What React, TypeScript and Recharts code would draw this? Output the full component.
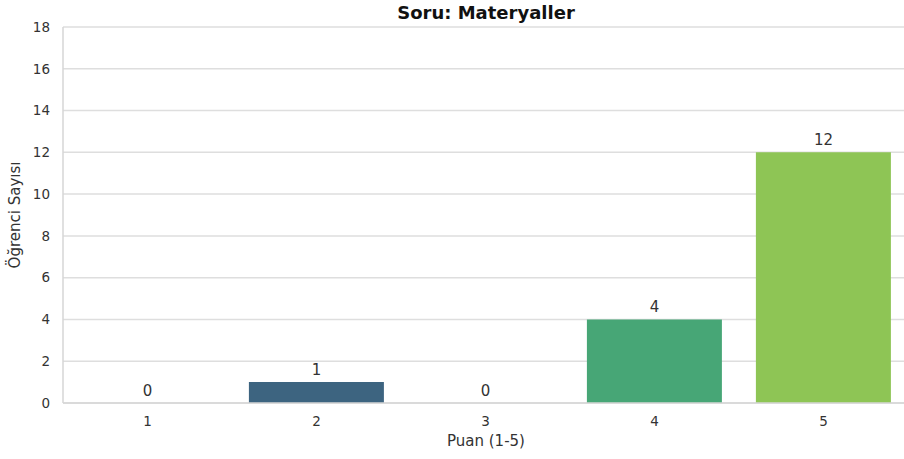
import React from "react";
import { ComposedChart, Bar, Line, XAxis, YAxis, CartesianGrid, Cell, LabelList } from "recharts";

const categories = ["1", "2", "3", "4", "5"];
const counts = [0, 1, 0, 4, 12];
const colors = ["#472d7b", "#3d6480", "#2a8b86", "#47a676", "#8ec555"];
const yTicks = [0, 2, 4, 6, 8, 10, 12, 14, 16, 18];

const data = categories.map((c, i) => ({ name: c, value: counts[i] }));

const FONT = "DejaVu Sans, sans-serif";

export default function App() {
  return (
    <div style={{ position: "absolute", left: 0, top: 0, width: 904, height: 459, overflow: "hidden", background: "#fff" }}>
      <ComposedChart
        width={908}
        height={459}
        data={data}
        margin={{ top: 27, right: 0, bottom: 0, left: 0 }}
        barCategoryGap="10%"
        style={{ fontFamily: FONT }}
      >
        <text x={486} y={19} textAnchor="middle" fontFamily={FONT} fontSize={18} fontWeight="bold" fill="#111">
          Soru: Materyaller
        </text>
        <text x={486} y={446} textAnchor="middle" fontFamily={FONT} fontSize={15} fill="#333">
          Puan (1-5)
        </text>
        <text x={-215} y={20} transform="rotate(-90)" textAnchor="middle" fontFamily={FONT} fontSize={15} fill="#333">
          Öğrenci Sayısı
        </text>
        <CartesianGrid vertical={false} stroke="#dedede" strokeWidth={1.5} />
        <XAxis
          dataKey="name"
          height={56}
          tickLine={false}
          axisLine={{ stroke: "#d6d6d6", strokeWidth: 1.5 }}
          tick={{ fill: "#333", fontSize: 13.5, fontFamily: FONT }}
          tickSize={6}
          tickMargin={7}
        />
        <YAxis
          width={63}
          domain={[0, 18]}
          ticks={yTicks}
          interval={0}
          tickLine={false}
          axisLine={{ stroke: "#d6d6d6", strokeWidth: 1.5 }}
          tick={{ fill: "#333", fontSize: 13.5, fontFamily: FONT }}
          tickSize={6}
          tickMargin={7}
        />
        <Bar dataKey="value" isAnimationActive={false}>
          {data.map((d, i) => (
            <Cell key={d.name} fill={colors[i]} />
          ))}
        </Bar>
        <Line dataKey="value" stroke="none" dot={false} activeDot={false} isAnimationActive={false} legendType="none">
          <LabelList dataKey="value" position="top" offset={7} fill="#333" fontSize={15} fontFamily={FONT} />
        </Line>
      </ComposedChart>
    </div>
  );
}
